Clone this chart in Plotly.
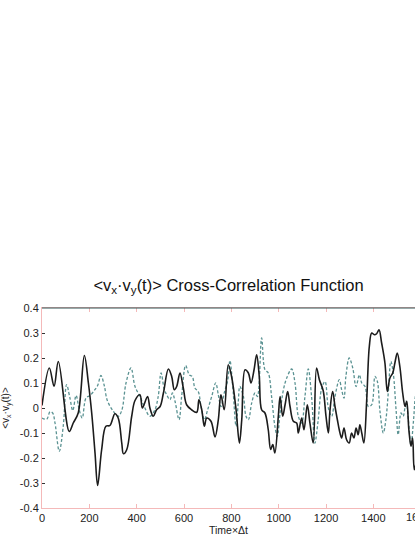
import plotly.graph_objects as go

# lag (Time x dt) and correlation values
t_solid = [0, 31, 51, 69, 115, 132, 153, 179, 196, 210, 224, 235, 252, 270, 287, 308, 322, 337, 344, 358,
           379, 393, 414, 424, 446, 456, 470, 484, 499, 513, 534, 548, 559, 569, 583, 597, 611, 632, 654, 663,
           675, 686, 696, 714, 731, 745, 756, 770, 787, 801, 820, 834, 844, 858, 872, 883, 896, 907, 918, 928,
           942, 956, 966, 975, 984, 999, 1006, 1017, 1027, 1038, 1048, 1062, 1076, 1083, 1097, 1107, 1121, 1132,
           1146, 1160, 1172, 1188, 1200, 1210, 1217, 1228, 1238, 1248, 1256, 1266, 1276, 1287, 1298, 1308, 1318,
           1327, 1336, 1343, 1351, 1360, 1372, 1383, 1393, 1404, 1414, 1424, 1435, 1449, 1459, 1470, 1482, 1491,
           1501, 1512, 1524, 1534, 1541, 1550, 1559, 1566, 1573, 1585, 1600, 1615]
v_solid = [0.01, 0.16, 0.087, 0.186, -0.094, -0.06, -0.02, 0.21, 0.1, -0.02, -0.18, -0.31, -0.167, -0.073,
           -0.07, -0.023, -0.04, -0.14, -0.183, -0.167, -0.033, 0.03, 0.053, 0.0, 0.046, 0.0, -0.033, -0.007,
           0.006, 0.06, 0.156, 0.126, 0.073, 0.086, 0.14, 0.08, 0.013, -0.007, -0.017, 0.033, -0.007, -0.073,
           -0.04, -0.053, -0.116, -0.047, 0.053, -0.007, 0.173, 0.126, -0.007, -0.14, -0.047, 0.153, 0.14, 0.1,
           0.153, 0.213, 0.126, -0.007, -0.02, -0.087, -0.166, -0.146, -0.18, -0.027, 0.046, -0.033, 0.013,
           0.066, 0.006, -0.053, -0.06, -0.1, -0.04, -0.087, 0.013, -0.06, -0.14, 0.16, 0.113, 0.07, -0.033,
           -0.1, -0.007, 0.066, 0.006, -0.047, -0.087, -0.12, -0.08, -0.127, -0.14, -0.1, -0.12, -0.08, -0.107,
           -0.067, -0.1, -0.14, 0.033, 0.246, 0.3, 0.293, 0.297, 0.313, 0.26, 0.18, 0.066, 0.12, 0.14, 0.18,
           0.22, 0.166, 0.06, 0.006, 0.027, -0.087, -0.153, -0.12, -0.247, -0.2, -0.15, -0.1]

t_dash = [0, 20, 34, 45, 55, 73, 90, 104, 118, 130, 144, 158, 170, 186, 203, 221, 235, 249, 263, 276, 301,
          322, 337, 355, 376, 393, 414, 432, 456, 477, 491, 503, 517, 527, 541, 551, 562, 579, 590, 607, 622,
          635, 646, 660, 672, 686, 700, 717, 734, 745, 756, 770, 785, 794, 806, 820, 829, 836, 851, 862, 872,
          886, 900, 910, 928, 942, 956, 970, 984, 994, 1006, 1020, 1034, 1055, 1069, 1083, 1097, 1111, 1125,
          1139, 1153, 1167, 1182, 1196, 1210, 1224, 1238, 1256, 1266, 1276, 1284, 1298, 1313, 1327, 1341, 1351,
          1365, 1379, 1393, 1407, 1417, 1428, 1442, 1453, 1463, 1474, 1484, 1496, 1505, 1517, 1526, 1538, 1548,
          1559, 1570, 1580, 1600, 1615]
v_dash = [-0.04, -0.045, -0.015, -0.02, -0.06, -0.173, -0.07, 0.093, 0.04, -0.01, 0.05, -0.01, -0.04, 0.04,
          0.05, 0.07, 0.09, 0.13, 0.09, 0.03, -0.013, -0.033, -0.01, 0.1, 0.16, 0.086, 0.046, 0.006, -0.033,
          -0.007, 0.046, 0.14, 0.073, 0.053, 0.033, 0.06, 0.027, -0.047, 0.046, 0.17, 0.133, 0.126, 0.08, 0.066,
          0.006, -0.047, -0.007, 0.046, 0.1, 0.053, 0.006, 0.06, 0.113, 0.19, 0.086, -0.073, 0.02, 0.086, 0.046,
          -0.033, -0.047, 0.02, 0.06, 0.046, 0.28, 0.153, 0.14, 0.046, -0.073, -0.113, -0.02, 0.073, 0.12, 0.156,
          0.1, -0.033, -0.06, 0.046, 0.156, 0.046, -0.14, -0.047, 0.08, 0.106, 0.0, -0.033, 0.046, 0.113, 0.073,
          0.04, 0.126, 0.2, 0.16, 0.086, 0.133, 0.1, 0.086, 0.006, 0.013, 0.126, 0.106, -0.013, -0.1, -0.047,
          0.06, 0.186, 0.14, -0.007, -0.107, -0.02, -0.033, 0.027, -0.047, -0.147, -0.047, 0.06, 0.12, 0.08]

x_ticks = [0, 200, 400, 600, 800, 1000, 1200, 1400, 1600]
y_ticks = [0.4, 0.3, 0.2, 0.1, 0, -0.1, -0.2, -0.3, -0.4]
y_ticktext = ["0.4", "0.3", "0.2", "0.1", "0", "-0.1", "-0.2", "-0.3", "-0.4"]

x_max = 1576   # the original figure is cut off just before 1600
pink = "#f4b9b9"
font = "Arial, Liberation Sans, sans-serif"

fig = go.Figure()
fig.add_trace(go.Scatter(
    x=t_dash, y=v_dash, mode="lines", line_shape="spline",
    line=dict(color="#5a9292", width=1.3, dash="3px,2px"),
    showlegend=False,
))
fig.add_trace(go.Scatter(
    x=t_solid, y=v_solid, mode="lines", line_shape="spline",
    line=dict(color="#1c1c1c", width=1.6),
    showlegend=False,
))

fig.update_layout(
    width=415, height=537,
    margin=dict(l=42, r=0, t=308, b=29),
    paper_bgcolor="white", plot_bgcolor="white",
    font=dict(family=font, size=11, color="#222"),
    title=dict(
        text="&lt;v<sub>x</sub>·v<sub>y</sub>(t)&gt; Cross-Correlation Function",
        xref="paper", x=0.5, xanchor="center", y=1, yref="paper", yanchor="bottom",
        pad=dict(b=17), font=dict(size=16.5, color="#111"),
    ),
    xaxis=dict(
        range=[0, x_max], tickvals=x_ticks, ticks="inside", ticklen=4,
        tickcolor=pink, showline=True, linecolor=pink, mirror="ticks",
        showgrid=False, zeroline=False, automargin=False,
        title=dict(text="Time×Δt", standoff=0, font=dict(size=10.5)),
    ),
    yaxis=dict(
        range=[-0.4, 0.4], tickvals=y_ticks, ticktext=y_ticktext,
        ticks="inside", ticklen=3, tickcolor="#333",
        showline=True, linecolor=pink, showgrid=False, zeroline=False,
        automargin=False,
        title=dict(text="&lt;v<sub>x</sub>·v<sub>y</sub>(t)&gt;", standoff=8, font=dict(size=10)),
    ),
    shapes=[dict(type="line", xref="paper", yref="paper", x0=0, x1=1, y0=1, y1=1,
                 line=dict(color="#2f5555", width=1.2))],
    # 1600 sits just past the cropped right edge, only its first digits show
    annotations=[dict(text=str(x_ticks[-1]), xref="paper", yref="paper",
                      x=x_ticks[-1] / x_max, y=0, xanchor="center", yanchor="top",
                      xshift=-3, yshift=-1, showarrow=False, font=dict(size=11, color="#222"))],
)

# drop the default page margin so the figure fills the window
fig.write_html("out.html", config={"displayModeBar": False},
               post_script="document.body.style.margin='0';")
